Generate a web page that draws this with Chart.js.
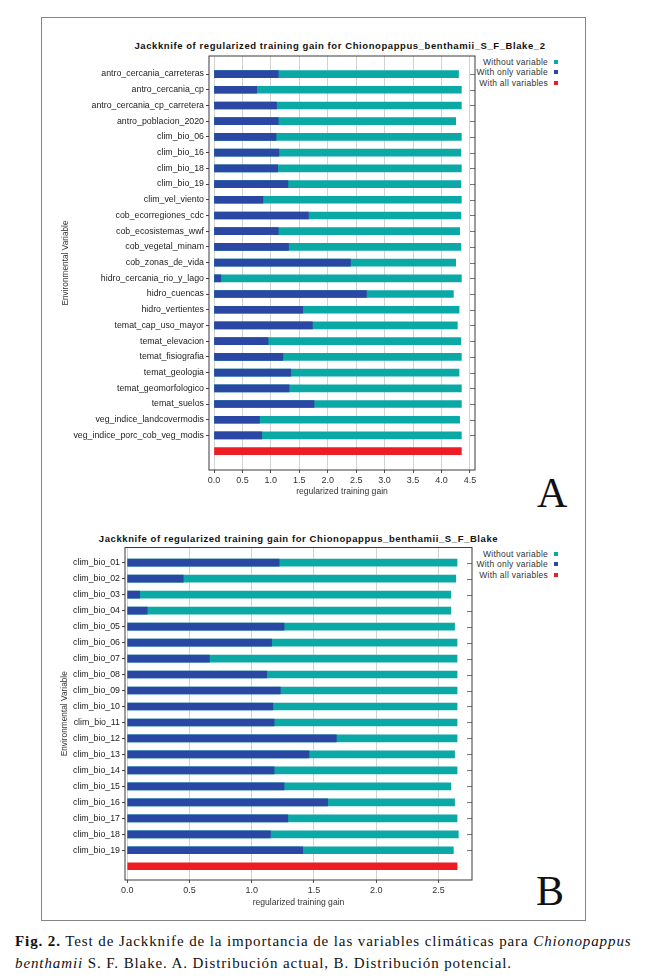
<!DOCTYPE html>
<html>
<head>
<meta charset="utf-8">
<script src="https://cdn.jsdelivr.net/npm/chart.js@4.4.1/dist/chart.umd.min.js"></script>
<style>
  body { margin: 0; width: 646px; height: 980px; background: #fff; position: relative; overflow: hidden;
         font-family: "Liberation Sans", Arial, sans-serif; }
  .frame { position: absolute; left: 41px; top: 17px; width: 543px; height: 902px; border: 1.5px solid #858585; }
  .box { position: absolute; }
  .title { position: absolute; font-weight: bold; font-size: 9.5px; line-height: 12px; color: #111;
           text-align: center; white-space: nowrap; letter-spacing: 0.58px; }
  .legend { position: absolute; font-size: 8.5px; line-height: 10.3px; color: #333; text-align: right;
            white-space: nowrap; letter-spacing: 0.25px; }
  .legend span { display: inline-block; width: 4px; height: 4px; margin-left: 6px; vertical-align: 1px; }
  .letter { position: absolute; font-family: "Liberation Serif", "DejaVu Serif", serif; font-size: 42px; line-height: 42px; color: #111; }
  .caption { position: absolute; left: 15px; top: 930px; width: 628px; font-family: "Liberation Serif", "DejaVu Serif", serif;
             font-size: 15px; line-height: 22px; color: #111; letter-spacing: 0.9px; white-space: nowrap; }
</style>
</head>
<body>
<div class="frame"></div>

<div class="title" style="left:0; width:680px; top:40px;">Jackknife of regularized training gain for Chionopappus_benthamii_S_F_Blake_2</div>
<div class="legend" style="right:88px; top:57px;">
  <div>Without variable<span style="background:#0aa9a5"></span></div>
  <div>With only variable<span style="background:#2a47a3"></span></div>
  <div>With all variables<span style="background:#ee1d25"></span></div>
</div>
<div class="box" style="left:50px; top:40px; width:440px; height:470px;"><canvas id="chartA"></canvas></div>
<div class="letter" style="left:537px; top:472px;">A</div>

<div class="title" style="left:0; width:597px; top:533px;">Jackknife of regularized training gain for Chionopappus_benthamii_S_F_Blake</div>
<div class="legend" style="right:88px; top:549px;">
  <div>Without variable<span style="background:#0aa9a5"></span></div>
  <div>With only variable<span style="background:#2a47a3"></span></div>
  <div>With all variables<span style="background:#ee1d25"></span></div>
</div>
<div class="box" style="left:50px; top:530px; width:440px; height:390px;"><canvas id="chartB"></canvas></div>
<div class="letter" style="left:536px; top:870px;">B</div>

<div class="caption"><b>Fig. 2.</b> Test de Jackknife de la importancia de las variables climáticas para <i>Chionopappus</i><br><i>benthamii</i> S. F. Blake. A. Distribución actual, B. Distribución potencial.</div>

<script>
// A: distribución actual
const varsA = [
  'antro_cercania_carreteras', 'antro_cercania_cp', 'antro_cercania_cp_carretera', 'antro_poblacion_2020',
  'clim_bio_06', 'clim_bio_16', 'clim_bio_18', 'clim_bio_19', 'clim_vel_viento',
  'cob_ecorregiones_cdc', 'cob_ecosistemas_wwf', 'cob_vegetal_minam', 'cob_zonas_de_vida',
  'hidro_cercania_rio_y_lago', 'hidro_cuencas', 'hidro_vertientes',
  'temat_cap_uso_mayor', 'temat_elevacion', 'temat_fisiografia', 'temat_geologia',
  'temat_geomorfologico', 'temat_suelos', 'veg_indice_landcovermodis', 'veg_indice_porc_cob_veg_modis'
];
const withoutA = [4.30, 4.35, 4.35, 4.25, 4.35, 4.34, 4.35, 4.34, 4.35, 4.34, 4.32, 4.34,
                  4.25, 4.35, 4.21, 4.31, 4.28, 4.34, 4.35, 4.31, 4.35, 4.35, 4.32, 4.35];
const onlyA = [1.13, 0.75, 1.10, 1.13, 1.09, 1.14, 1.12, 1.30, 0.86, 1.66, 1.13, 1.31,
               2.40, 0.12, 2.68, 1.56, 1.73, 0.95, 1.21, 1.35, 1.32, 1.76, 0.80, 0.84];
const allA = 4.35;
const xTicksA = [0, 0.5, 1, 1.5, 2, 2.5, 3, 3.5, 4, 4.5];

// B: distribución potencial
const varsB = ['clim_bio_01', 'clim_bio_02', 'clim_bio_03', 'clim_bio_04', 'clim_bio_05', 'clim_bio_06',
  'clim_bio_07', 'clim_bio_08', 'clim_bio_09', 'clim_bio_10', 'clim_bio_11', 'clim_bio_12', 'clim_bio_13',
  'clim_bio_14', 'clim_bio_15', 'clim_bio_16', 'clim_bio_17', 'clim_bio_18', 'clim_bio_19'];
const withoutB = [2.65, 2.64, 2.60, 2.60, 2.63, 2.65, 2.65, 2.65, 2.65, 2.65, 2.65, 2.65, 2.63,
                  2.65, 2.60, 2.63, 2.65, 2.66, 2.62];
const onlyB = [1.22, 0.45, 0.10, 0.16, 1.26, 1.16, 0.66, 1.12, 1.23, 1.17, 1.18, 1.68, 1.46,
               1.18, 1.26, 1.61, 1.29, 1.15, 1.41];
const allB = 2.65;
const xTicksB = [0, 0.5, 1, 1.5, 2, 2.5];

const CYAN = '#0aa9a5', BLUE = '#2a47a3', RED = '#ee1d25';
const FONT = 'Liberation Sans';

// box round the plot, plus the little inward ticks on the right edge
const plotFrame = {
  id: 'plotFrame',
  afterDraw(chart) {
    const {ctx, chartArea: a} = chart;
    const yScale = chart.scales.y;
    ctx.save();
    ctx.strokeStyle = '#777';
    ctx.lineWidth = 1;
    yScale.ticks.forEach(t => {
      const py = Math.round(yScale.getPixelForValue(t.value)) + 0.5;
      ctx.beginPath();
      ctx.moveTo(a.right - 5, py);
      ctx.lineTo(a.right, py);
      ctx.stroke();
    });
    ctx.strokeStyle = '#3a3a3a';
    ctx.strokeRect(a.left, a.top, a.right - a.left, a.bottom - a.top);
    ctx.restore();
  }
};

function makeJackknife(id, vars, without, only, all, xTicks, g) {
  const pts = vals => vals.map((v, i) => ({x: v, y: i}));
  new Chart(document.getElementById(id), {
    type: 'bar',
    data: {
      datasets: [
        {label: 'With only variable', data: pts(only), backgroundColor: BLUE},
        {label: 'Without variable', data: pts(without), backgroundColor: CYAN},
        {label: 'With all variables', data: [{x: all, y: vars.length}], backgroundColor: RED}
      ]
    },
    options: {
      indexAxis: 'y',
      responsive: true,
      maintainAspectRatio: false,
      animation: false,
      datasets: {bar: {grouped: false, barThickness: 7, borderWidth: 0}},
      layout: {padding: {top: g.padTop, right: g.padRight, left: 0, bottom: 0}},
      plugins: {legend: {display: false}, tooltip: {enabled: false}},
      scales: {
        x: {
          type: 'linear', min: g.xMin, max: g.xMax,
          afterBuildTicks: s => { s.ticks = xTicks.map(v => ({value: v})); },
          afterFit: s => { s.height = g.xHeight; s.paddingLeft = 0; s.paddingRight = 0; },
          ticks: {callback: v => v.toFixed(1), color: '#333', font: {family: FONT, size: 9}, padding: 2},
          grid: {color: '#d2d2d2', tickColor: '#555', tickLength: 3},
          border: {display: false},
          title: {display: true, text: 'regularized training gain', color: '#333',
                  font: {family: FONT, size: 8.6}, padding: {top: 0, bottom: g.xTitlePad}}
        },
        y: {
          type: 'linear', reverse: true, offset: false, min: g.yMin, max: vars.length + g.yExtra,
          afterBuildTicks: s => { s.ticks = vars.map((_, i) => ({value: i})); },
          afterFit: s => { s.width = g.yWidth; s.paddingTop = 0; s.paddingBottom = 0; },
          ticks: {callback: v => vars[v] || '', color: '#222', font: {family: FONT, size: 8.8}, padding: 2, autoSkip: false},
          grid: {offset: false, drawOnChartArea: false, tickColor: '#444', tickLength: 3},
          border: {display: false},
          title: {display: true, text: 'Environmental Variable', color: '#333',
                  font: {family: FONT, size: 8.3}, padding: {top: g.yTitlePad, bottom: 0}}
        }
      }
    },
    plugins: [plotFrame]
  });
}

makeJackknife('chartA', varsA, withoutA, onlyA, allA, xTicksA, {
  padTop: 16, padRight: 15, xMin: -0.088, xMax: 4.59, xHeight: 40, xTitlePad: 13,
  yMin: -1.15, yExtra: 1.2, yWidth: 159, yTitlePad: 11
});
makeJackknife('chartB', varsB, withoutB, onlyB, allB, xTicksB, {
  padTop: 17.5, padRight: 18, xMin: -0.018, xMax: 2.77, xHeight: 40, xTitlePad: 12.5,
  yMin: -0.95, yExtra: 0.86, yWidth: 75, yTitlePad: 10
});
</script>
</body>
</html>
